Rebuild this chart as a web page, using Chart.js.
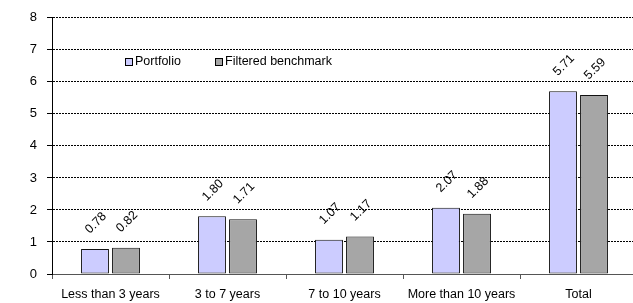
<!DOCTYPE html>
<html>
<head>
<meta charset="utf-8">
<script src="https://cdn.jsdelivr.net/npm/chart.js@4"></script>
<style>
html,body{margin:0;padding:0;background:#fff;overflow:hidden;}
#wrap{position:relative;width:640px;height:303px;}
</style>
</head>
<body>
<div id="wrap"><canvas id="c"></canvas></div>
<script>
const categories = ["Less than 3 years", "3 to 7 years", "7 to 10 years", "More than 10 years", "Total"];
const seriesNames = ["Portfolio", "Filtered benchmark"];
const portfolio = [0.78, 1.80, 1.07, 2.07, 5.71];
const benchmark = [0.82, 1.71, 1.17, 1.88, 5.59];
const yTicks = [0, 1, 2, 3, 4, 5, 6, 7, 8];

const FONT = '"Liberation Sans", Arial, sans-serif';
const colors = ["#CCCCFF", "#A6A6A6"];

const labelPlugin = {
  id: 'valueLabels',
  afterDatasetsDraw(chart) {
    const ctx = chart.ctx;
    ctx.save();
    ctx.font = '12.5px ' + FONT;
    ctx.fillStyle = '#000';
    ctx.textAlign = 'center';
    ctx.textBaseline = 'middle';
    chart.data.datasets.forEach((ds, di) => {
      chart.getDatasetMeta(di).data.forEach((bar, i) => {
        ctx.save();
        ctx.translate(bar.x + 1, bar.y - 26);
        ctx.rotate(-Math.PI / 4);
        ctx.fillText(ds.data[i].toFixed(2), 0, 0);
        ctx.restore();
      });
    });
    ctx.restore();
  }
};

const legendPlugin = {
  id: 'innerLegend',
  afterDraw(chart) {
    const ctx = chart.ctx;
    const items = [{x: 125, tx: 135}, {x: 215, tx: 225}];
    ctx.save();
    ctx.font = '12.5px ' + FONT;
    ctx.textBaseline = 'middle';
    ctx.textAlign = 'left';
    chart.data.datasets.forEach((ds, i) => {
      const it = items[i];
      ctx.fillStyle = ds.backgroundColor;
      ctx.fillRect(it.x, 58, 7, 7);
      ctx.strokeStyle = '#000';
      ctx.lineWidth = 1;
      ctx.strokeRect(it.x + 0.5, 58.5, 7, 7);
      ctx.fillStyle = '#000';
      ctx.fillText(ds.label, it.tx, 61.5);
    });
    ctx.restore();
  }
};

new Chart(document.getElementById('c'), {
  type: 'bar',
  data: {
    labels: categories,
    datasets: [
      {label: seriesNames[0], data: portfolio, backgroundColor: colors[0], borderColor: '#111', borderWidth: 1, borderSkipped: false},
      {label: seriesNames[1], data: benchmark, backgroundColor: colors[1], borderColor: '#111', borderWidth: 1, borderSkipped: false}
    ]
  },
  options: {
    responsive: true,
    maintainAspectRatio: false,
    animation: false,
    devicePixelRatio: 1,
    categoryPercentage: 0.53,
    barPercentage: 0.9,
    layout: {padding: {top: 9, right: 3, left: 0, bottom: 0}},
    plugins: {legend: {display: false}, tooltip: {enabled: false}},
    scales: {
      x: {
        grid: {drawOnChartArea: false, color: '#555', tickLength: 5, offset: true},
        border: {display: true, color: '#555', width: 1},
        ticks: {color: '#000', font: {family: FONT, size: 12.5}, padding: 8, maxRotation: 0, autoSkip: false},
        afterFit(s) { s.height = 29; }
      },
      y: {
        min: 0, max: 8,
        afterBuildTicks(s) { s.ticks = yTicks.map(v => ({value: v})); },
        grid: {color: (c) => c.tick && c.tick.value === 0 ? 'rgba(0,0,0,0)' : '#000', lineWidth: 1, tickLength: 5, tickColor: '#000', tickBorderDash: []},
        border: {display: true, color: '#000', width: 1, dash: [2, 1]},
        ticks: {color: '#000', font: {family: FONT, size: 13}, padding: 10, stepSize: 1},
        afterFit(s) { s.width = 52; }
      }
    }
  },
  plugins: [labelPlugin, legendPlugin]
});
</script>
</body>
</html>
